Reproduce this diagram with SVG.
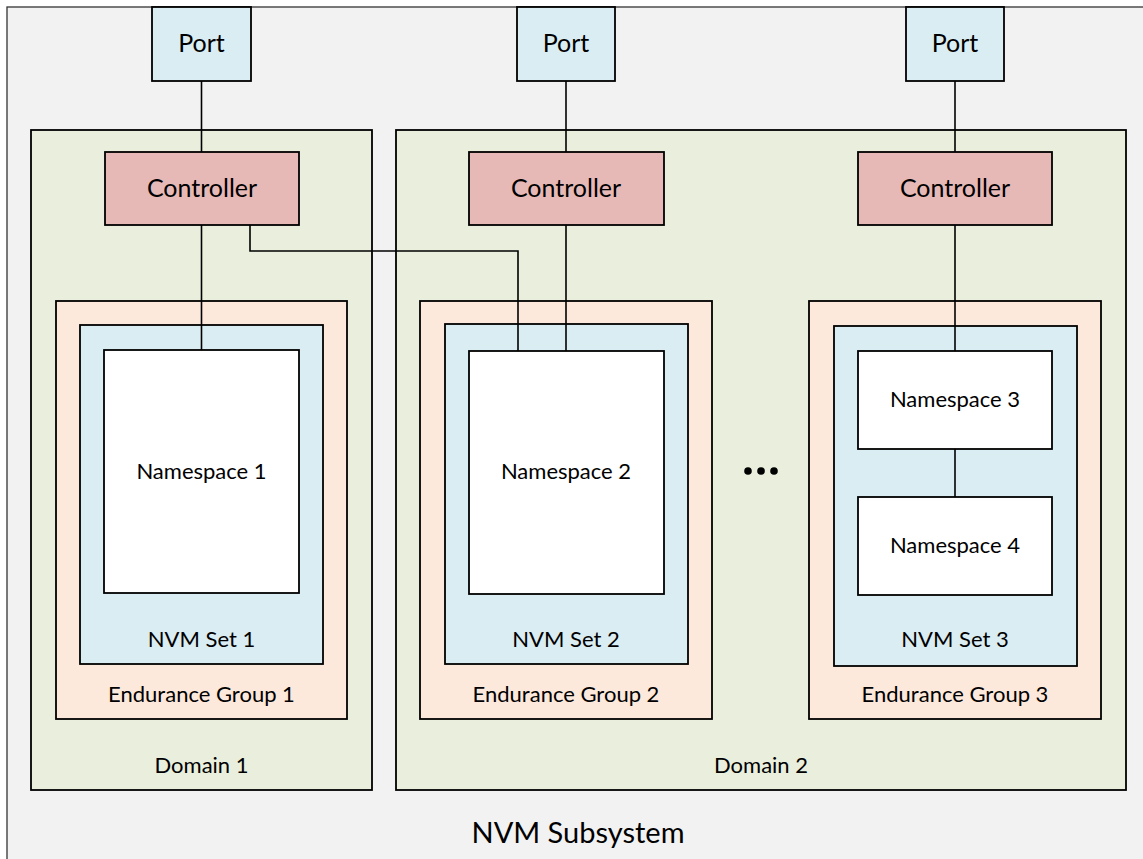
<svg xmlns="http://www.w3.org/2000/svg" width="1143" height="859" viewBox="0 0 1143 859">
<style>
  text { font-family: Lato, "Noto Sans", sans-serif; fill: #000; text-anchor: middle; }
  .box { stroke: #000; stroke-width: 1.8; }
  .sub { fill: #f2f2f2; stroke: #333; stroke-width: 1.3; }
  .dom { fill: #e9efdc; }
  .end { fill: #fde9db; }
  .set { fill: #daedf3; }
  .port { fill: #daedf3; }
  .ctl { fill: #e6b9b7; }
  .ns { fill: #ffffff; }
  .t24 { font-size: 25px; }
  .t21 { font-size: 22px; }
  .t29 { font-size: 29px; }
  .conn { fill: none; stroke: #000; stroke-width: 1.6; }
</style>
<g id="nvm-subsystem">
  <rect class="sub" x="7" y="7" width="1150" height="870"/>
  <text class="t29" x="578" y="843">NVM Subsystem</text>
</g>
<g id="domain1">
  <rect class="box dom" x="31" y="130" width="341" height="660"/>
  <text class="t21" x="201.5" y="773">Domain 1</text>
</g>
<g id="domain2">
  <rect class="box dom" x="396" y="130" width="730" height="660"/>
  <text class="t21" x="761" y="773">Domain 2</text>
</g>
<g id="endurance1">
  <rect class="box end" x="56" y="301" width="291" height="418"/>
  <text class="t21" x="201.5" y="702">Endurance Group 1</text>
</g>
<g id="endurance2">
  <rect class="box end" x="420" y="301" width="292" height="418"/>
  <text class="t21" x="566" y="702">Endurance Group 2</text>
</g>
<g id="endurance3">
  <rect class="box end" x="809" y="301" width="292" height="418"/>
  <text class="t21" x="955" y="702">Endurance Group 3</text>
</g>
<g id="nvmset1">
  <rect class="box set" x="80" y="325" width="243" height="339"/>
  <text class="t21" x="201.5" y="647">NVM Set 1</text>
</g>
<g id="nvmset2">
  <rect class="box set" x="445" y="324" width="243" height="340"/>
  <text class="t21" x="566" y="647">NVM Set 2</text>
</g>
<g id="nvmset3">
  <rect class="box set" x="834" y="326" width="243" height="340"/>
  <text class="t21" x="955" y="647">NVM Set 3</text>
</g>
<g id="namespace1">
  <rect class="box ns" x="104" y="350" width="195" height="243"/>
  <text class="t21" x="201.5" y="479">Namespace 1</text>
</g>
<g id="namespace2">
  <rect class="box ns" x="469" y="351" width="195" height="243"/>
  <text class="t21" x="566" y="479">Namespace 2</text>
</g>
<g id="namespace3">
  <rect class="box ns" x="858" y="351" width="194" height="98"/>
  <text class="t21" x="955" y="407">Namespace 3</text>
</g>
<g id="namespace4">
  <rect class="box ns" x="858" y="497" width="194" height="98"/>
  <text class="t21" x="955" y="553">Namespace 4</text>
</g>
<g id="port1">
  <rect class="box port" x="152" y="7" width="99" height="74"/>
  <text class="t24" x="201.5" y="52">Port</text>
</g>
<g id="port2">
  <rect class="box port" x="517" y="7" width="98" height="74"/>
  <text class="t24" x="566" y="52">Port</text>
</g>
<g id="port3">
  <rect class="box port" x="906" y="7" width="98" height="74"/>
  <text class="t24" x="955" y="52">Port</text>
</g>
<g id="controller1">
  <rect class="box ctl" x="105" y="152" width="194" height="73"/>
  <text class="t24" x="202" y="197">Controller</text>
</g>
<g id="controller2">
  <rect class="box ctl" x="469" y="152" width="195" height="73"/>
  <text class="t24" x="566" y="197">Controller</text>
</g>
<g id="controller3">
  <rect class="box ctl" x="858" y="152" width="194" height="73"/>
  <text class="t24" x="955" y="197">Controller</text>
</g>
<g id="ellipsis">
  <circle cx="748" cy="471" r="3.8" fill="#000"/>
  <circle cx="761" cy="471" r="3.8" fill="#000"/>
  <circle cx="774" cy="471" r="3.8" fill="#000"/>
</g>
<g id="connectors">
  <path class="conn" d="M201.5 81 V152"/>
  <path class="conn" d="M201.5 225 V350"/>
  <path class="conn" d="M250 225 V251 H518 V351"/>
  <path class="conn" d="M566 81 V152"/>
  <path class="conn" d="M566 225 V351"/>
  <path class="conn" d="M955 81 V152"/>
  <path class="conn" d="M955 225 V351"/>
  <path class="conn" d="M955 449 V497"/>
</g>
</svg>
